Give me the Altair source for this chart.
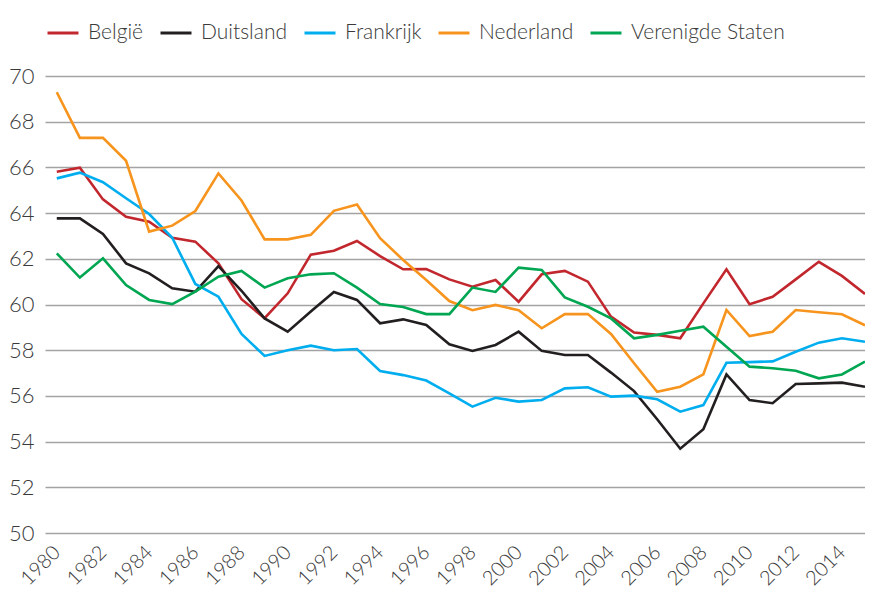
import altair as alt
import pandas as pd

years = list(range(1980, 2016))

belgie = [65.81, 65.99, 64.6, 63.84, 63.62, 62.92, 62.75, 61.8, 60.23, 59.4,
          60.49, 62.18, 62.35, 62.78, 62.12, 61.54, 61.55, 61.1, 60.78, 61.07,
          60.12, 61.32, 61.47, 61.0, 59.47, 58.77, 58.67, 58.52, 60.05, 61.54,
          60.01, 60.34, 61.1, 61.87, 61.25, 60.46]
duitsland = [63.77, 63.77, 63.09, 61.8, 61.36, 60.71, 60.56, 61.68, 60.6, 59.39,
             58.81, 59.69, 60.55, 60.2, 59.18, 59.35, 59.1, 58.26, 57.97, 58.23,
             58.81, 57.97, 57.79, 57.79, 57.02, 56.21, 54.98, 53.69, 54.54, 56.94,
             55.82, 55.68, 56.52, 56.55, 56.58, 56.4]
frankrijk = [65.52, 65.77, 65.35, 64.65, 63.96, 62.92, 60.9, 60.34, 58.71, 57.75,
             58.0, 58.2, 58.0, 58.05, 57.09, 56.91, 56.67, 56.11, 55.53, 55.92,
             55.75, 55.82, 56.33, 56.38, 55.97, 56.01, 55.85, 55.31, 55.6, 57.45,
             57.48, 57.51, 57.93, 58.33, 58.52, 58.37]
nederland = [69.29, 67.29, 67.29, 66.29, 63.19, 63.45, 64.09, 65.74, 64.55, 62.85,
             62.85, 63.05, 64.1, 64.38, 62.9, 61.95, 61.07, 60.15, 59.75, 59.98,
             59.75, 58.96, 59.58, 59.58, 58.71, 57.43, 56.18, 56.4, 56.94, 59.76,
             58.62, 58.81, 59.76, 59.66, 59.57, 59.09]
verenigde_staten = [62.24, 61.18, 62.02, 60.85, 60.2, 60.02, 60.56, 61.22, 61.47, 60.74,
                    61.15, 61.32, 61.37, 60.74, 60.02, 59.89, 59.58, 59.58, 60.74, 60.55,
                    61.61, 61.51, 60.31, 59.9, 59.39, 58.52, 58.67, 58.85, 59.03, 58.15,
                    57.28, 57.21, 57.1, 56.77, 56.94, 57.5]

countries = ["België", "Duitsland", "Frankrijk", "Nederland", "Verenigde Staten"]
series = [belgie, duitsland, frankrijk, nederland, verenigde_staten]
colors = ["#C1272D", "#231F20", "#00AEEF", "#F7941D", "#00A651"]
x_ticks = list(range(1980, 2015, 2))
y_ticks = [50, 52, 54, 56, 58, 60, 62, 64, 66, 68, 70]

rows = []
for c, vals in zip(countries, series):
    for y, v in zip(years, vals):
        rows.append({"jaar": y, "waarde": v, "land": c})
df = pd.DataFrame(rows)

FONT = "Lato"
TXT = "#3a3a3a"

chart = alt.Chart(df).mark_line(strokeWidth=2.6, strokeJoin="miter").encode(
    x=alt.X("jaar:Q",
            scale=alt.Scale(domain=[1979.49, 2015], nice=False, zero=False),
            axis=alt.Axis(values=x_ticks, format="d", labelAngle=-45, grid=False,
                          domain=False, ticks=False, labelPadding=16,
                          labelAlign="right", labelBaseline="middle",
                          labelFont=FONT, labelFontSize=20, labelFontWeight=300,
                          labelColor=TXT, title=None, labelOverlap=False)),
    y=alt.Y("waarde:Q",
            scale=alt.Scale(domain=[50, 70], nice=False, zero=False),
            axis=alt.Axis(values=y_ticks, grid=True, gridColor="#a3a3a3",
                          gridWidth=1.4, domain=False, ticks=False, labelPadding=11,
                          labelFont=FONT, labelFontSize=22, labelFontWeight=300,
                          labelColor=TXT, title=None)),
    color=alt.Color("land:N",
                    scale=alt.Scale(domain=countries, range=colors),
                    legend=alt.Legend(orient="none", legendX=1, legendY=-60,
                                      direction="horizontal", title=None,
                                      symbolType="stroke", symbolSize=961,
                                      symbolStrokeWidth=3, labelOffset=8,
                                      columnPadding=10, labelFont=FONT,
                                      labelFontSize=21, labelFontWeight=300,
                                      labelColor=TXT, padding=0)),
).properties(
    width=820, height=457,
    autosize=alt.AutoSizeParams(type="none"),
    padding={"left": 37, "top": 68, "right": 0, "bottom": 62},
).configure_view(stroke=None)

chart.save("out.html", embed_options={"renderer": "svg", "actions": False})
